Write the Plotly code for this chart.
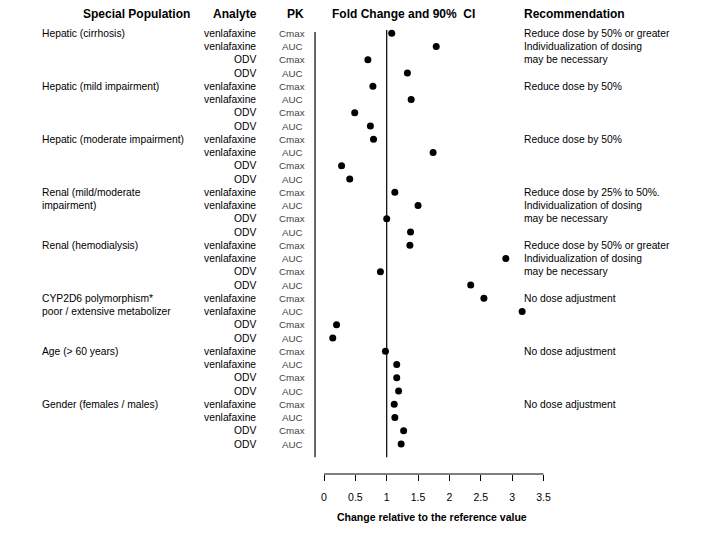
import plotly.graph_objects as go

# the page adds an 8px body margin, so the figure is drawn 8px smaller
PAD = 8
W, H = 718 - 2 * PAD, 547 - 2 * PAD

populations = [
    ("Hepatic (cirrhosis)", 0),
    ("Hepatic (mild impairment)", 4),
    ("Hepatic (moderate impairment)", 8),
    ("Renal (mild/moderate", 12),
    ("impairment)", 13),
    ("Renal (hemodialysis)", 16),
    ("CYP2D6 polymorphism*", 20),
    ("poor / extensive metabolizer", 21),
    ("Age (> 60 years)", 24),
    ("Gender (females / males)", 28),
]
analytes = ["venlafaxine", "venlafaxine", "ODV", "ODV"] * 8
pk = ["Cmax", "AUC", "Cmax", "AUC"] * 8
fold_change = [
    1.08, 1.79, 0.70, 1.33,
    0.78, 1.39, 0.49, 0.74,
    0.79, 1.74, 0.28, 0.41,
    1.13, 1.50, 1.00, 1.38,
    1.37, 2.90, 0.90, 2.34,
    2.55, 3.16, 0.20, 0.14,
    0.98, 1.16, 1.16, 1.19,
    1.12, 1.13, 1.27, 1.23,
]
recommendations = [
    ("Reduce dose by 50% or greater", 0),
    ("Individualization of dosing", 1),
    ("may be necessary", 2),
    ("Reduce dose by 50%", 4),
    ("Reduce dose by 50%", 8),
    ("Reduce dose by 25% to 50%.", 12),
    ("Individualization of dosing", 13),
    ("may be necessary", 14),
    ("Reduce dose by 50% or greater", 16),
    ("Individualization of dosing", 17),
    ("may be necessary", 18),
    ("No dose adjustment", 20),
    ("No dose adjustment", 24),
    ("No dose adjustment", 28),
]
headers = [
    ("Special Population", 136),
    ("Analyte", 235),
    ("PK", 295),
    ("Fold Change and 90%  CI", 403),
    ("Recommendation", 574),
]
x_ticks = [0, 0.5, 1, 1.5, 2, 2.5, 3, 3.5]

rows = list(range(len(fold_change)))

# pixel mapping (reference window pixels)
x0_px, ppu = 324.0, 62.7
dom_l, dom_r = 300, 560
y0_px, row_px = 33.3, 13.25
dom_t, dom_b = 20, 474

xr = [(dom_l - x0_px) / ppu, (dom_r - x0_px) / ppu]
yr = [(dom_b - y0_px) / row_px, (dom_t - y0_px) / row_px]


def fx(p):
    return (p - PAD) / W


def fy(p):
    return 1 - (p - PAD) / H


FONT = "Liberation Sans, Arial, sans-serif"

fig = go.Figure()
fig.add_trace(go.Scatter(
    x=fold_change, y=rows, mode="markers",
    marker=dict(color="black", size=7, symbol="circle"),
    showlegend=False, hoverinfo="x",
))

fig.add_shape(type="line", xref="x", yref="y", x0=1, x1=1, y0=-0.25, y1=32,
              line=dict(color="black", width=1.2))
fig.add_shape(type="line", xref="x", yref="y", x0=-0.143, x1=-0.143, y0=-0.1, y1=32,
              line=dict(color="black", width=1.2))
fig.add_shape(type="line", xref="x", yref="paper", x0=0, x1=3.5,
              y0=fy(dom_b), y1=fy(dom_b), line=dict(color="black", width=1.2))

ann = []
for text, r in populations:
    ann.append(dict(x=fx(40), y=r, xref="paper", yref="y", text=text,
                    xanchor="left", yanchor="middle", showarrow=False,
                    font=dict(size=10.3, color="black", family=FONT)))
for r, (a, p) in enumerate(zip(analytes, pk)):
    ann.append(dict(x=fx(258), y=r, xref="paper", yref="y", text=a,
                    xanchor="right", yanchor="middle", showarrow=False,
                    font=dict(size=10.3, color="black", family=FONT)))
    ann.append(dict(x=fx(292), y=r, xref="paper", yref="y", text=p,
                    xanchor="center", yanchor="middle", showarrow=False,
                    font=dict(size=9.8, color="#444444", family=FONT)))
for text, r in recommendations:
    ann.append(dict(x=fx(522), y=r, xref="paper", yref="y", text=text,
                    xanchor="left", yanchor="middle", showarrow=False,
                    font=dict(size=10.3, color="black", family=FONT)))
for text, cx in headers:
    ann.append(dict(x=fx(cx), y=fy(14), xref="paper", yref="paper",
                    text="<b>" + text + "</b>", xanchor="center", yanchor="middle",
                    showarrow=False, font=dict(size=12, color="black", family=FONT)))
ann.append(dict(x=fx(432), y=fy(517), xref="paper", yref="paper",
                text="<b>Change relative to the reference value</b>",
                xanchor="center", yanchor="middle", showarrow=False,
                font=dict(size=10.5, color="black", family=FONT)))

fig.update_layout(
    width=W, height=H,
    margin=dict(l=0, r=0, t=0, b=0),
    paper_bgcolor="white", plot_bgcolor="white",
    annotations=ann,
    xaxis=dict(domain=[fx(dom_l), fx(dom_r)], range=xr, tickvals=x_ticks,
               ticktext=[f"{v:g}" for v in x_ticks],
               ticks="outside", ticklen=6, tickcolor="black", tickwidth=1,
               showline=False, showgrid=False, zeroline=False,
               ticklabelstandoff=7,
               tickfont=dict(size=10.5, color="black", family=FONT)),
    yaxis=dict(domain=[fy(dom_b), fy(dom_t)], range=yr,
               showticklabels=False, showgrid=False, zeroline=False,
               showline=False, ticks=""),
)

fig.write_html("out.html")
